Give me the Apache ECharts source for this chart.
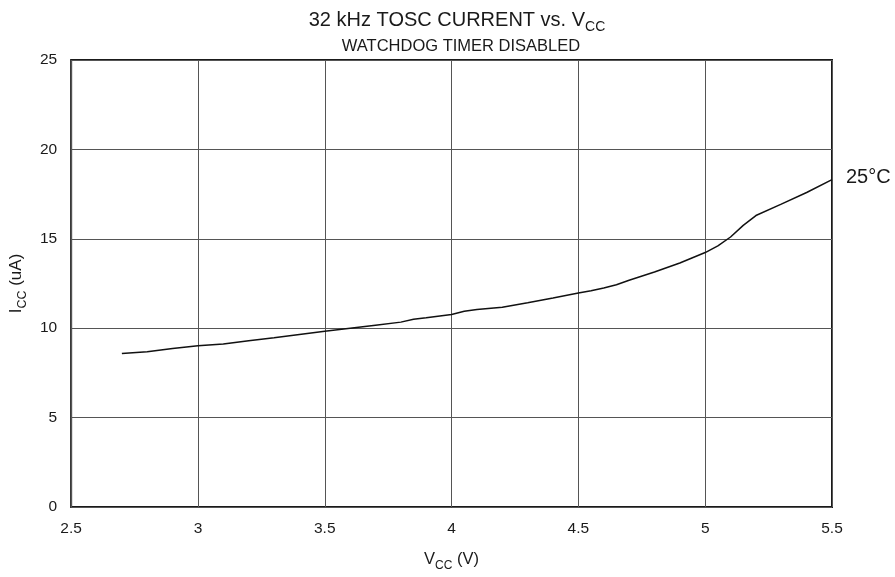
<!DOCTYPE html>
<html>
<head>
<meta charset="utf-8">
<script src="https://cdn.jsdelivr.net/npm/echarts@6/dist/echarts.min.js"></script>
<style>html,body{margin:0;padding:0;background:#fff}#c{width:895px;height:577px}</style>
</head>
<body>
<div id="c"></div>
<script>
const vcc = [2.7, 2.8, 2.9, 3.0, 3.1, 3.2, 3.3, 3.4, 3.5, 3.6, 3.7, 3.8, 3.85, 3.9, 4.0, 4.05, 4.1, 4.2, 4.3, 4.4, 4.5, 4.55, 4.6, 4.65, 4.7, 4.8, 4.9, 4.95, 5.0, 5.05, 5.1, 5.15, 5.2, 5.3, 5.4, 5.5];
const icc25 = [8.59, 8.68, 8.86, 9.02, 9.12, 9.3, 9.47, 9.65, 9.83, 10.0, 10.17, 10.34, 10.5, 10.58, 10.77, 10.95, 11.05, 11.17, 11.42, 11.69, 11.97, 12.09, 12.25, 12.43, 12.68, 13.14, 13.65, 13.94, 14.23, 14.6, 15.1, 15.75, 16.3, 16.94, 17.59, 18.31];
const seriesName = '25°C';
const xTicks = [2.5, 3, 3.5, 4, 4.5, 5, 5.5];
const yTicks = [0, 5, 10, 15, 20, 25];

const font = 'Liberation Sans, Arial, sans-serif';
const txt = '#1a1a1a';
const chart = echarts.init(document.getElementById('c'));
chart.setOption({
  animation: false,
  title: [{
    text: '{a|32 kHz TOSC CURRENT vs. V}{s|CC}',
    left: 452, top: 1, textAlign: 'center',
    textStyle: {
      rich: {
        a: {fontSize: 20, fontWeight: 'normal', fontFamily: font, color: txt, lineHeight: 24, verticalAlign: 'bottom'},
        s: {fontSize: 14, fontWeight: 'normal', fontFamily: font, color: txt, lineHeight: 24, verticalAlign: 'bottom', padding: [0, 0, -4, 0]}
      }
    }
  }, {
    text: 'WATCHDOG TIMER DISABLED',
    left: 456, top: 33, textAlign: 'center',
    textStyle: {fontSize: 16.5, fontWeight: 'normal', fontFamily: font, color: txt}
  }],
  grid: {left: 70, right: 63, top: 60, bottom: 65, show: true, borderColor: '#1a1a1a', borderWidth: 2},
  xAxis: {
    type: 'value', min: xTicks[0], max: xTicks[xTicks.length - 1], interval: 0.5,
    name: '{a|V}{s|CC}{a| (V)}', nameLocation: 'middle', nameGap: 41,
    nameTextStyle: {rich: {
      a: {fontSize: 16.5, fontFamily: font, color: txt, lineHeight: 20, verticalAlign: 'bottom'},
      s: {fontSize: 12, fontFamily: font, color: txt, lineHeight: 20, verticalAlign: 'bottom', padding: [0, 0, -4, 0]}
    }},
    axisLine: {show: false}, axisTick: {show: false},
    axisLabel: {fontSize: 15.5, fontFamily: font, color: txt, margin: 14, formatter: v => String(v)},
    splitLine: {lineStyle: {color: '#555', width: 1}}
  },
  yAxis: {
    type: 'value', min: yTicks[0], max: yTicks[yTicks.length - 1], interval: 5,
    name: '{a|I}{s|CC}{a| (uA)}', nameLocation: 'middle', nameGap: 30, nameRotate: 90,
    nameTextStyle: {rich: {
      a: {fontSize: 17, fontFamily: font, color: txt, lineHeight: 20, verticalAlign: 'bottom'},
      s: {fontSize: 12.5, fontFamily: font, color: txt, lineHeight: 20, verticalAlign: 'bottom', padding: [0, 0, -4, 0]}
    }},
    axisLine: {show: false}, axisTick: {show: false},
    axisLabel: {fontSize: 15.5, fontFamily: font, color: txt, margin: 14},
    splitLine: {lineStyle: {color: '#555', width: 1}}
  },
  series: [{
    name: seriesName, type: 'line', showSymbol: false, smooth: false,
    data: vcc.map((x, i) => [x, icc25[i]]),
    lineStyle: {color: '#111', width: 1.5},
    endLabel: {show: true, formatter: seriesName, fontSize: 20, fontFamily: font, color: txt, offset: [6, -2]}
  }]
});
</script>
</body>
</html>
